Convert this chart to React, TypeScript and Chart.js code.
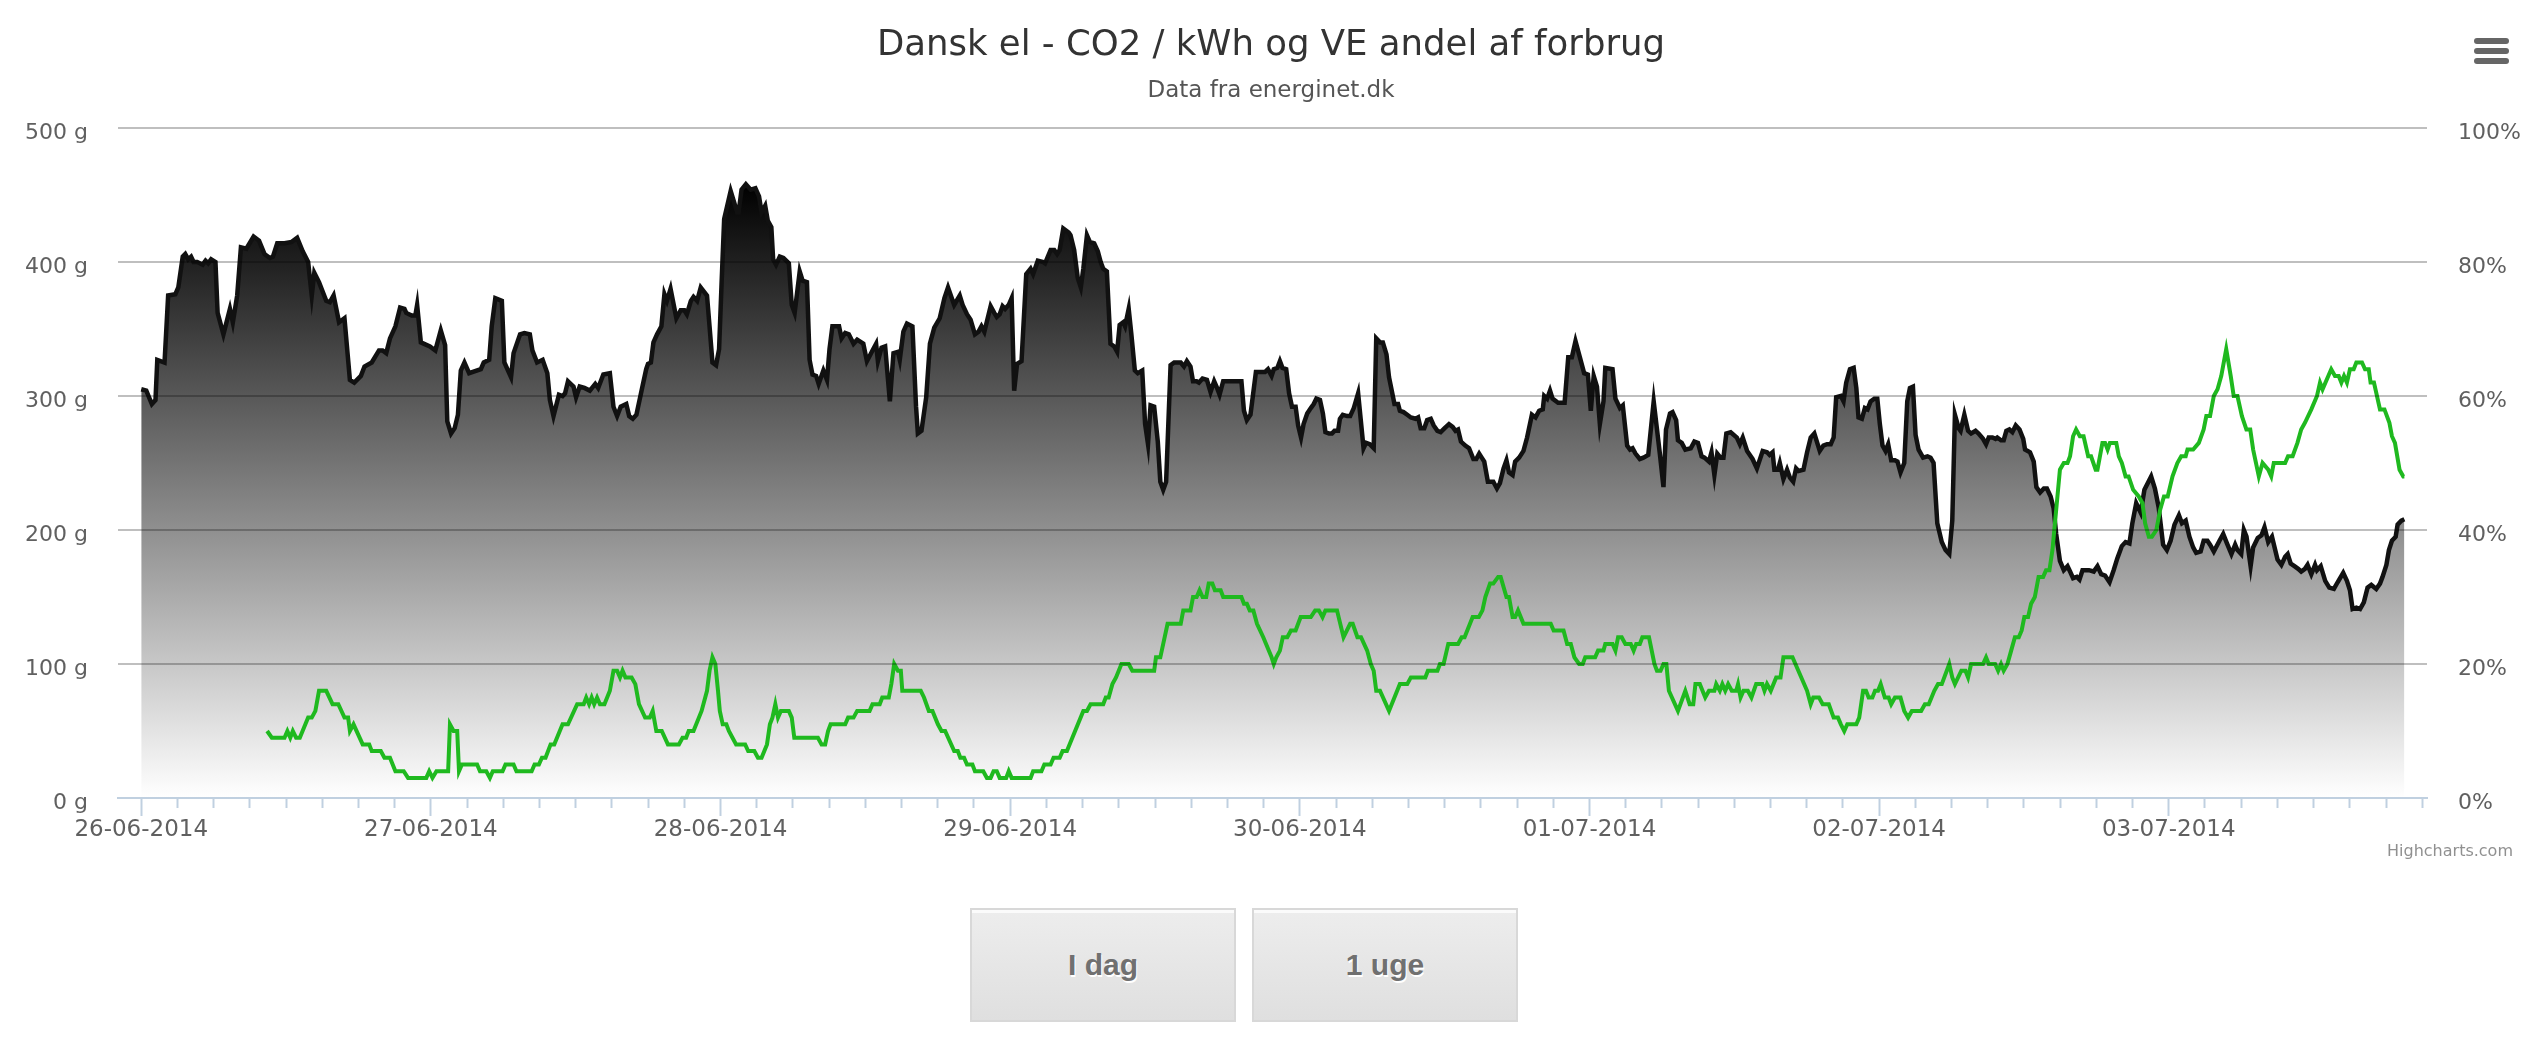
import { useEffect, useRef } from "react";
import { Chart, registerables } from "chart.js";

Chart.register(...registerables);

const chartTitle = "Dansk el - CO2 / kWh og VE andel af forbrug";
const chartSubtitle = "Data fra energinet.dk";
const creditText = "Highcharts.com";
const rangeButtons = ["I dag", "1 uge"];

// x axis: hours after 26-06-2014 00:00; one label per day
const dayLabels = [
  "26-06-2014", "27-06-2014", "28-06-2014", "29-06-2014",
  "30-06-2014", "01-07-2014", "02-07-2014", "03-07-2014",
];
const co2AxisTicks = [0, 100, 200, 300, 400, 500];
const veAxisTicks = [0, 20, 40, 60, 80, 100];

// CO2 per kWh [hour, grams]
const co2Readings: [number, number][] = [
  [0, 305], [0.42, 304], [0.88, 294], [1.18, 297], [1.33, 327], [1.93, 325], [2.23, 375], [2.83, 376], [3.07, 381], [3.44, 404],
  [3.65, 406], [3.89, 402], [4.13, 404], [4.34, 400], [4.64, 400], [5.09, 398], [5.33, 401], [5.55, 399], [5.79, 402], [6.15, 400],
  [6.33, 362], [6.81, 346], [7.35, 365], [7.59, 355], [7.95, 375], [8.26, 411], [8.71, 410], [9.31, 419], [9.76, 416], [10.21, 406],
  [10.67, 403], [10.91, 404], [11.27, 414], [11.57, 414], [11.87, 414], [12.47, 415], [12.92, 418], [13.38, 408], [13.83, 400], [14.13, 375],
  [14.34, 392], [14.73, 385], [15.33, 371], [15.63, 370], [15.94, 375], [16.39, 355], [16.84, 358], [17.29, 312], [17.65, 310], [18.2, 315],
  [18.5, 322], [19.1, 325], [19.7, 334], [20.0, 334], [20.3, 332], [20.61, 343], [21.06, 352], [21.45, 366], [21.81, 365], [21.96, 362],
  [22.41, 360], [22.71, 360], [22.86, 368], [23.17, 340], [23.92, 337], [24.37, 334], [24.82, 349], [25.18, 338], [25.36, 281], [25.67, 272],
  [25.97, 276], [26.24, 286], [26.48, 319], [26.78, 325], [27.17, 317], [28.14, 320], [28.38, 325], [28.83, 327], [29.04, 352], [29.34, 373],
  [29.88, 371], [30.09, 325], [30.64, 314], [30.85, 332], [31.39, 346], [31.75, 347], [32.2, 346], [32.41, 334], [32.8, 325], [33.26, 327],
  [33.65, 317], [33.86, 297], [34.16, 285], [34.61, 301], [34.91, 300], [35.12, 302], [35.36, 311], [35.82, 307], [36.03, 299], [36.33, 307],
  [36.72, 306], [37.17, 304], [37.62, 309], [37.86, 306], [38.29, 316], [38.83, 317], [39.13, 292], [39.43, 285], [39.73, 292], [40.19, 294],
  [40.43, 285], [40.73, 283], [41.03, 286], [41.48, 305], [41.84, 320], [41.99, 324], [42.23, 325], [42.44, 340], [42.74, 346], [43.1, 352],
  [43.35, 376], [43.56, 371], [43.86, 380], [44.34, 358], [44.7, 364], [45.0, 364], [45.21, 361], [45.54, 371], [45.76, 374], [46.06, 371],
  [46.36, 381], [46.88, 375], [47.09, 352], [47.33, 325], [47.63, 323], [47.88, 335], [48.09, 385], [48.3, 432], [48.84, 453], [49.38, 437],
  [49.5, 437], [49.74, 454], [50.1, 458], [50.5, 454], [50.89, 455], [51.19, 449], [51.4, 437], [51.7, 442], [51.91, 431], [52.21, 426],
  [52.36, 402], [52.6, 398], [52.91, 404], [53.21, 403], [53.66, 399], [53.9, 368], [54.14, 362], [54.56, 393], [54.8, 386], [55.16, 385],
  [55.38, 327], [55.62, 316], [55.92, 315], [56.13, 309], [56.52, 319], [56.82, 312], [57.03, 335], [57.27, 352], [57.82, 352], [58.03, 343],
  [58.33, 347], [58.63, 346], [59.02, 339], [59.32, 342], [59.83, 339], [60.13, 326], [60.59, 334], [60.89, 339], [61.04, 326], [61.34, 336],
  [61.64, 337], [62.03, 296], [62.33, 332], [62.7, 333], [62.85, 327], [63.15, 348], [63.45, 354], [63.9, 352], [64.2, 292], [64.35, 272],
  [64.65, 274], [65.04, 299], [65.35, 339], [65.71, 351], [66.16, 358], [66.55, 373], [66.85, 381], [67.36, 368], [67.82, 375], [68.06, 368],
  [68.42, 361], [68.72, 357], [69.08, 346], [69.38, 348], [69.62, 352], [69.86, 348], [70.38, 367], [70.68, 362], [70.89, 359], [71.13, 361],
  [71.37, 367], [71.58, 365], [71.88, 368], [72.12, 373], [72.33, 304], [72.57, 324], [72.94, 326], [73.33, 391], [73.69, 395], [73.9, 391],
  [74.29, 401], [74.74, 400], [74.89, 399], [75.35, 409], [75.65, 409], [75.89, 406], [76.1, 409], [76.4, 425], [76.85, 422], [77.0, 420],
  [77.3, 409], [77.6, 388], [77.85, 381], [78.06, 395], [78.36, 420], [78.6, 415], [78.96, 414], [79.26, 408], [79.5, 400], [79.71, 395],
  [80.01, 393], [80.31, 339], [80.62, 337], [80.86, 333], [81.07, 353], [81.37, 355], [81.52, 352], [81.82, 365], [82.03, 347], [82.33, 319],
  [82.57, 317], [82.94, 319], [83.18, 279], [83.42, 264], [83.63, 293], [83.93, 292], [84.23, 266], [84.44, 236], [84.68, 230], [84.92, 236],
  [85.29, 323], [85.59, 325], [85.83, 325], [86.13, 325], [86.4, 322], [86.64, 326], [86.94, 322], [87.15, 311], [87.45, 311], [87.64, 310],
  [87.94, 313], [88.3, 312], [88.6, 303], [88.9, 311], [89.14, 306], [89.35, 301], [89.65, 311], [91.16, 311], [91.37, 289], [91.61, 282],
  [91.91, 286], [92.36, 318], [93.12, 318], [93.36, 320], [93.66, 315], [93.84, 320], [94.14, 321], [94.35, 326], [94.56, 321], [94.87, 320],
  [95.11, 302], [95.35, 292], [95.65, 292], [95.86, 278], [96.1, 269], [96.31, 279], [96.61, 287], [96.91, 291], [97.15, 294], [97.37, 298],
  [97.67, 297], [97.91, 287], [98.12, 273], [98.42, 272], [98.66, 272], [98.87, 274], [99.17, 274], [99.32, 283], [99.56, 286], [99.93, 285],
  [100.17, 285], [100.47, 291], [100.83, 302], [101.28, 261], [101.49, 265], [101.79, 264], [102.12, 261], [102.33, 343], [102.64, 340], [102.88, 340],
  [103.18, 331], [103.39, 314], [103.84, 294], [104.14, 294], [104.29, 289], [104.59, 288], [104.9, 286], [105.2, 284], [105.59, 283], [105.8, 284],
  [106.01, 276], [106.31, 276], [106.55, 282], [106.85, 283], [107.09, 278], [107.4, 274], [107.67, 273], [108.0, 276], [108.36, 279], [108.66, 277],
  [108.9, 274], [109.11, 275], [109.35, 266], [109.71, 263], [110.02, 261], [110.38, 253], [110.62, 253], [110.86, 257], [111.07, 254], [111.28, 251],
  [111.58, 236], [111.82, 236], [112.03, 236], [112.33, 231], [112.58, 235], [112.88, 246], [113.12, 252], [113.33, 243], [113.63, 241], [113.84, 251],
  [114.17, 254], [114.53, 259], [114.83, 269], [115.23, 286], [115.53, 284], [115.83, 289], [116.13, 290], [116.25, 300], [116.49, 298], [116.73, 304],
  [116.94, 298], [117.4, 295], [117.94, 295], [118.24, 329], [118.54, 329], [118.84, 341], [119.2, 329], [119.56, 317], [119.87, 316], [120.11, 289],
  [120.35, 315], [120.62, 307], [120.86, 279], [121.16, 296], [121.31, 321], [121.91, 320], [122.15, 298], [122.52, 291], [122.76, 293], [123.12, 263],
  [123.36, 260], [123.57, 261], [123.81, 257], [124.17, 253], [124.47, 254], [124.87, 256], [125.32, 296], [125.83, 257], [126.13, 232], [126.34, 275],
  [126.67, 287], [126.88, 288], [127.18, 282], [127.33, 267], [127.64, 265], [127.94, 260], [128.39, 261], [128.69, 266], [128.99, 265], [129.29, 255],
  [129.53, 254], [129.9, 251], [130.11, 258], [130.35, 241], [130.59, 257], [130.86, 254], [131.1, 254], [131.34, 272], [131.7, 273], [132.21, 269],
  [132.46, 264], [132.7, 269], [133.06, 259], [133.51, 253], [133.87, 246], [134.35, 259], [134.71, 258], [134.92, 256], [135.17, 258], [135.32, 245],
  [135.62, 245], [135.77, 250], [136.07, 238], [136.37, 245], [136.61, 239], [136.88, 236], [137.12, 246], [137.33, 244], [137.73, 245], [138.03, 258],
  [138.33, 269], [138.63, 272], [139.08, 259], [139.38, 263], [139.68, 264], [139.99, 264], [140.23, 269], [140.44, 299], [140.83, 300], [141.05, 296],
  [141.27, 310], [141.58, 320], [141.89, 321], [142.11, 306], [142.29, 284], [142.57, 283], [142.82, 291], [143.04, 290], [143.29, 296], [143.6, 298],
  [143.85, 298], [144.06, 279], [144.28, 263], [144.53, 259], [144.75, 264], [145.0, 252], [145.31, 252], [145.52, 251], [145.77, 243], [146.08, 250],
  [146.33, 296], [146.55, 306], [146.8, 307], [147.02, 271], [147.27, 260], [147.64, 254], [148.01, 255], [148.26, 254], [148.51, 250], [148.82, 205],
  [149.19, 191], [149.5, 185], [149.81, 182], [150.06, 207], [150.28, 286], [150.59, 276], [150.75, 274], [151.06, 286], [151.37, 274], [151.62, 272],
  [151.99, 274], [152.24, 272], [152.61, 268], [152.86, 264], [153.08, 269], [153.39, 269], [153.64, 268], [153.79, 269], [154.1, 267], [154.32, 267],
  [154.54, 274], [154.79, 275], [155.04, 273], [155.32, 278], [155.63, 275], [155.94, 268], [156.09, 260], [156.5, 258], [156.81, 251], [157.03, 232],
  [157.34, 228], [157.65, 231], [157.9, 231], [158.21, 225], [158.46, 216], [158.67, 197], [158.98, 177], [159.3, 170], [159.61, 173], [159.82, 169],
  [160.07, 164], [160.38, 165], [160.6, 163], [160.85, 170], [161.38, 170], [161.78, 169], [162.09, 173], [162.4, 167], [162.72, 166], [163.09, 161],
  [163.43, 170], [163.74, 179], [164.11, 188], [164.42, 191], [164.74, 190], [164.98, 205], [165.3, 220], [165.67, 213], [165.98, 230], [166.54, 240],
  [166.85, 231], [167.16, 217], [167.53, 189], [167.84, 185], [168.15, 192], [168.47, 204], [168.84, 211], [169.09, 205], [169.4, 207], [169.71, 195],
  [170.02, 187], [170.27, 183], [170.64, 184], [170.89, 192], [171.2, 192], [171.42, 189], [171.73, 184], [172.2, 192], [172.51, 197], [172.82, 190],
  [173.19, 182], [173.5, 189], [173.69, 185], [174.0, 182], [174.22, 200], [174.44, 195], [174.78, 173], [174.99, 187], [175.37, 194], [175.68, 196],
  [175.93, 202], [176.24, 191], [176.55, 195], [177.01, 178], [177.33, 174], [177.64, 180], [177.85, 182], [178.1, 175], [178.41, 173], [178.72, 171],
  [178.97, 169], [179.28, 171], [179.5, 174], [179.81, 167], [180.12, 174], [180.28, 170], [180.59, 173], [180.96, 162], [181.3, 157], [181.68, 156],
  [181.99, 161], [182.45, 168], [182.76, 162], [183.01, 155], [183.23, 141], [183.54, 142], [183.85, 141], [184.16, 146], [184.47, 157], [184.78, 159],
  [185.19, 156], [185.5, 160], [185.71, 165], [186.03, 174], [186.24, 185], [186.49, 192], [186.8, 195], [186.96, 204], [187.27, 207], [187.52, 208],
];

// VE share of consumption [hour, percent]
const veReadings: [number, number][] = [
  [10.43, 10], [10.82, 9], [11.87, 9], [12.11, 10], [12.35, 9], [12.56, 10], [12.83, 9], [13.14, 9], [13.83, 12], [14.13, 12],
  [14.43, 13], [14.73, 16], [15.33, 16], [15.85, 14], [16.33, 14], [16.84, 12], [17.14, 12], [17.29, 10], [17.59, 11], [18.35, 8],
  [18.89, 8], [19.1, 7], [19.85, 7], [20.15, 6], [20.61, 6], [21.06, 4], [21.75, 4], [22.11, 3], [23.62, 3], [23.86, 4],
  [24.13, 3], [24.46, 4], [25.43, 4], [25.58, 11], [25.88, 10], [26.18, 10], [26.33, 4], [26.57, 5], [27.83, 5], [28.07, 4],
  [28.59, 4], [28.89, 3], [29.13, 4], [29.94, 4], [30.18, 5], [30.85, 5], [31.09, 4], [32.35, 4], [32.59, 5], [32.95, 5],
  [33.2, 6], [33.5, 6], [33.92, 8], [34.22, 8], [34.91, 11], [35.36, 11], [36.12, 14], [36.66, 14], [36.87, 15], [37.11, 14],
  [37.32, 15], [37.53, 14], [37.77, 15], [38.01, 14], [38.38, 14], [38.83, 16], [39.13, 19], [39.43, 19], [39.67, 18], [39.88, 19],
  [40.12, 18], [40.63, 18], [40.94, 17], [41.24, 14], [41.75, 12], [42.14, 12], [42.38, 13], [42.68, 10], [43.13, 10], [43.64, 8],
  [44.55, 8], [44.85, 9], [45.15, 9], [45.36, 10], [45.76, 10], [46.43, 13], [46.88, 16], [47.09, 19], [47.33, 21], [47.57, 20],
  [47.79, 16], [47.94, 13], [48.18, 11], [48.48, 11], [48.69, 10], [48.99, 9], [49.29, 8], [50.04, 8], [50.29, 7], [50.8, 7],
  [51.1, 6], [51.4, 6], [51.85, 8], [52.09, 11], [52.3, 12], [52.54, 14], [52.76, 12], [53.0, 13], [53.66, 13], [53.9, 12],
  [54.11, 9], [56.07, 9], [56.37, 8], [56.67, 8], [56.91, 10], [57.12, 11], [58.33, 11], [58.57, 12], [59.02, 12], [59.32, 13],
  [60.35, 13], [60.59, 14], [61.19, 14], [61.4, 15], [61.94, 15], [62.15, 17], [62.39, 20], [62.7, 19], [62.94, 19], [63.06, 16],
  [64.59, 16], [64.86, 15], [65.26, 13], [65.56, 13], [66.01, 11], [66.31, 10], [66.61, 10], [67.36, 7], [67.66, 7], [67.87, 6],
  [68.18, 6], [68.42, 5], [68.87, 5], [69.08, 4], [69.77, 4], [70.07, 3], [70.38, 3], [70.62, 4], [70.89, 4], [71.13, 3],
  [71.67, 3], [71.88, 4], [72.12, 3], [73.69, 3], [73.9, 4], [74.59, 4], [74.83, 5], [75.35, 5], [75.59, 6], [76.1, 6],
  [76.34, 7], [76.7, 7], [77.15, 9], [78.06, 13], [78.36, 13], [78.66, 14], [79.71, 14], [79.92, 15], [80.16, 15], [80.47, 17],
  [80.77, 18], [81.22, 20], [81.82, 20], [82.12, 19], [83.93, 19], [84.08, 21], [84.44, 21], [84.68, 23], [85.04, 26], [86.13, 26],
  [86.34, 28], [86.94, 28], [87.15, 30], [87.45, 30], [87.69, 31], [87.94, 30], [88.24, 30], [88.45, 32], [88.75, 32], [88.96, 31],
  [89.44, 31], [89.65, 30], [91.16, 30], [91.37, 29], [91.61, 29], [91.85, 28], [92.15, 28], [92.45, 26], [92.97, 24], [93.66, 21],
  [93.84, 20], [94.05, 21], [94.35, 22], [94.59, 24], [94.96, 24], [95.26, 25], [95.65, 25], [96.07, 27], [96.91, 27], [97.27, 28],
  [97.58, 28], [97.88, 27], [98.12, 28], [99.08, 28], [99.62, 24], [100.17, 26], [100.38, 26], [100.77, 24], [101.07, 24], [101.58, 22],
  [101.88, 20], [102.12, 19], [102.33, 16], [102.64, 16], [103.39, 13], [104.29, 17], [104.9, 17], [105.2, 18], [106.4, 18], [106.61, 19],
  [107.4, 19], [107.61, 20], [107.91, 20], [108.3, 23], [109.11, 23], [109.41, 24], [109.65, 24], [110.32, 27], [110.83, 27], [111.13, 28],
  [111.37, 30], [111.76, 32], [112.03, 32], [112.43, 33], [112.64, 33], [113.12, 30], [113.33, 30], [113.63, 27], [113.84, 27], [114.08, 28],
  [114.53, 26], [116.79, 26], [117.03, 25], [117.85, 25], [118.15, 23], [118.45, 23], [118.75, 21], [119.14, 20], [119.44, 20], [119.65, 21],
  [120.47, 21], [120.71, 22], [121.16, 22], [121.31, 23], [121.91, 23], [122.15, 22], [122.37, 24], [122.67, 24], [122.97, 23], [123.42, 23],
  [123.66, 22], [123.87, 23], [124.17, 23], [124.38, 24], [124.93, 24], [125.38, 20], [125.59, 19], [125.89, 19], [126.13, 20], [126.37, 20],
  [126.58, 16], [127.33, 13], [127.94, 16], [128.3, 14], [128.6, 14], [128.78, 17], [129.14, 17], [129.59, 15], [129.9, 16], [130.35, 16],
  [130.5, 17], [130.8, 16], [131.01, 17], [131.25, 16], [131.49, 17], [131.79, 16], [132.16, 16], [132.31, 17], [132.52, 15], [132.76, 16],
  [133.12, 16], [133.42, 15], [133.81, 17], [134.32, 17], [134.5, 16], [134.71, 17], [135.02, 16], [135.47, 18], [135.83, 18], [136.07, 21],
  [136.82, 21], [138.03, 16], [138.33, 14], [138.54, 15], [139.02, 15], [139.32, 14], [139.83, 14], [140.23, 12], [140.59, 12], [140.83, 11],
  [141.11, 10], [141.36, 11], [142.11, 11], [142.35, 12], [142.67, 16], [142.91, 16], [143.13, 15], [143.44, 15], [143.66, 16], [143.91, 16],
  [144.13, 17], [144.47, 15], [144.79, 15], [145.0, 14], [145.31, 15], [145.77, 15], [146.08, 13], [146.4, 12], [146.71, 13], [147.48, 13],
  [147.79, 14], [148.11, 14], [148.57, 16], [148.88, 17], [149.19, 17], [149.81, 20], [150.06, 18], [150.28, 17], [150.81, 19], [151.15, 19],
  [151.37, 18], [151.62, 20], [152.61, 20], [152.86, 21], [153.08, 20], [153.61, 20], [153.86, 19], [154.1, 20], [154.32, 19], [154.63, 20],
  [154.94, 22], [155.25, 24], [155.57, 24], [155.81, 25], [156.03, 27], [156.34, 27], [156.59, 29], [156.9, 30], [157.21, 33], [157.59, 33],
  [157.83, 34], [158.11, 34], [158.36, 37], [158.67, 43], [158.98, 49], [159.3, 50], [159.61, 50], [159.82, 51], [160.07, 54], [160.32, 55],
  [160.63, 54], [160.94, 54], [161.32, 51], [161.56, 51], [161.94, 49], [162.09, 49], [162.5, 53], [162.72, 53], [162.93, 52], [163.12, 53],
  [163.65, 53], [163.86, 51], [164.11, 50], [164.42, 48], [164.67, 48], [165.05, 46], [165.51, 45], [165.82, 44], [166.04, 41], [166.35, 39],
  [166.6, 39], [166.97, 40], [167.28, 43], [167.6, 45], [167.91, 45], [168.31, 48], [168.71, 50], [169.03, 51], [169.4, 51], [169.55, 52],
  [170.02, 52], [170.49, 53], [170.89, 55], [171.11, 57], [171.42, 57], [171.73, 60], [172.04, 61], [172.35, 63], [172.76, 67], [173.13, 63],
  [173.38, 60], [173.69, 60], [174.06, 57], [174.43, 55], [174.75, 55], [174.99, 52], [175.46, 48], [175.77, 50], [176.24, 49], [176.49, 48],
  [176.7, 50], [177.64, 50], [177.88, 51], [178.26, 51], [178.66, 53], [178.97, 55], [179.28, 56], [179.81, 58], [180.28, 60], [180.53, 62],
  [180.74, 61], [181.46, 64], [181.77, 63], [182.08, 63], [182.3, 62], [182.52, 63], [182.76, 62], [183.01, 64], [183.32, 64], [183.54, 65],
  [184.01, 65], [184.26, 64], [184.57, 64], [184.72, 62], [185.0, 62], [185.5, 58], [185.87, 58], [186.28, 56], [186.49, 54], [186.74, 53],
  [187.12, 49], [187.43, 48], [187.52, 48],
];

const FONT = "'DejaVu Sans', 'Lucida Grande', sans-serif";

export default function App() {
  const canvasRef = useRef<HTMLCanvasElement | null>(null);

  useEffect(() => {
    const canvas = canvasRef.current;
    if (!canvas) return;
    Chart.defaults.font.family = FONT;

    const firstHour = co2Readings[0][0];
    const lastHour = co2Readings[co2Readings.length - 1][0];
    const pad = (lastHour - firstHour) * 0.01;
    const tickHours: number[] = [];
    for (let h = 0; h <= lastHour + pad; h += 3) tickHours.push(h);
    const co2Max = Math.max(...co2Readings.map((r) => r[1]));

    const chart = new Chart(canvas, {
      type: "line",
      data: {
        datasets: [
          {
            label: "VE andel af forbrug",
            data: veReadings.map(([x, y]) => ({ x, y })),
            yAxisID: "y1",
            borderColor: "#1fb91f",
            borderWidth: 4,
            pointRadius: 0,
            fill: false,
            tension: 0,
            order: 0,
          },
          {
            label: "CO2 / kWh",
            data: co2Readings.map(([x, y]) => ({ x, y })),
            yAxisID: "y",
            borderColor: "#111111",
            borderWidth: 4.5,
            pointRadius: 0,
            tension: 0,
            fill: "origin",
            order: 1,
            backgroundColor: (ctx: any) => {
              const ch = ctx.chart;
              if (!ch.chartArea || !ch.scales.y) return "rgba(80,80,80,1)";
              const top = ch.scales.y.getPixelForValue(co2Max);
              const bottom = ch.scales.y.getPixelForValue(0);
              const g = ch.ctx.createLinearGradient(0, top, 0, bottom);
              g.addColorStop(0, "rgb(0,0,0)");
              g.addColorStop(1, "rgb(255,255,255)");
              return g;
            },
          },
        ],
      },
      options: {
        animation: false,
        responsive: true,
        maintainAspectRatio: false,
        events: [],
        layout: { padding: { left: 0, right: 0, top: 0, bottom: 32 } },
        plugins: {
          legend: { display: false },
          tooltip: { enabled: false },
          title: {
            display: true,
            text: chartTitle,
            color: "#333333",
            font: { family: FONT, size: 35.5, weight: "normal" },
            padding: { top: 24.7, bottom: 10.2 },
          },
          subtitle: {
            display: true,
            text: chartSubtitle,
            color: "#555555",
            font: { family: FONT, size: 23, weight: "normal" },
            padding: { top: 0, bottom: 22.9 },
          },
        },
        scales: {
          x: {
            type: "linear",
            min: firstHour - pad - 0.05,
            max: lastHour + pad,
            afterBuildTicks: (s: any) => {
              s.ticks = tickHours.map((v) => ({ value: v }));
            },
            afterFit: (s: any) => {
              s.height = 50;
            },
            ticks: {
              autoSkip: false,
              maxRotation: 0,
              minRotation: 0,
              padding: 0,
              color: "#606060",
              font: { family: FONT, size: 23 },
              callback: (v: any) => {
                const n = Number(v);
                return n % 24 === 0 ? dayLabels[n / 24] ?? "" : "";
              },
            },
            grid: {
              drawOnChartArea: false,
              drawTicks: true,
              tickLength: 18,
              tickColor: "#C0D0E0",
              tickWidth: 2,
              tickBorderDash: (ctx: any) =>
                ctx.tick && ctx.tick.value % 24 === 0 ? [] : [9, 40],
            },
            border: { display: true, color: "#C0D0E0", width: 2, z: 1 },
          },
          y: {
            position: "left",
            min: co2AxisTicks[0],
            max: co2AxisTicks[co2AxisTicks.length - 1],
            afterFit: (s: any) => {
              s.width = 118;
            },
            afterBuildTicks: (s: any) => {
              s.ticks = co2AxisTicks.map((v) => ({ value: v }));
            },
            ticks: {
              padding: 30,
              labelOffset: 5,
              color: "#606060",
              font: { family: FONT, size: 22 },
              callback: (v: any) => `${v} g`,
            },
            grid: {
              color: (ctx: any) =>
                ctx.tick && ctx.tick.value === 0 ? "rgba(0,0,0,0)" : "rgba(0,0,0,0.25)",
              lineWidth: 2,
              drawTicks: false,
              z: 1,
            },
            border: { display: false },
          },
          y1: {
            position: "right",
            min: veAxisTicks[0],
            max: veAxisTicks[veAxisTicks.length - 1],
            afterFit: (s: any) => {
              s.width = 115;
            },
            afterBuildTicks: (s: any) => {
              s.ticks = veAxisTicks.map((v) => ({ value: v }));
            },
            ticks: {
              padding: 31,
              labelOffset: 5,
              color: "#606060",
              font: { family: FONT, size: 22 },
              callback: (v: any) => `${v}%`,
            },
            grid: { drawOnChartArea: false, drawTicks: false },
            border: { display: false },
          },
        },
      } as any,
    });

    return () => chart.destroy();
  }, []);

  const bar = (top: number) => (
    <div
      style={{
        position: "absolute",
        left: 2474,
        top,
        width: 35,
        height: 6,
        borderRadius: 3,
        background: "#666666",
      }}
    />
  );

  return (
    <div
      style={{
        position: "fixed",
        left: 0,
        top: 0,
        width: 2542,
        height: 1060,
        background: "#ffffff",
        overflow: "hidden",
      }}
    >
      <div style={{ position: "absolute", left: 0, top: 0, width: 2542, height: 880 }}>
        <canvas ref={canvasRef} />
      </div>
      {bar(38)}
      {bar(48)}
      {bar(58)}
      <div
        style={{
          position: "absolute",
          right: 29,
          top: 841,
          fontFamily: FONT,
          fontSize: 16,
          lineHeight: "20px",
          color: "#909090",
        }}
      >
        {creditText}
      </div>
      {rangeButtons.map((label, i) => (
        <div
          key={label}
          style={{
            position: "absolute",
            left: 970 + i * 282,
            top: 908,
            width: 266,
            height: 114,
            boxSizing: "border-box",
            border: "2px solid #d8d8d8",
            background: "linear-gradient(#ededed, #dfdfdf)",
            boxShadow: "inset 0 3px 0 #fbfbfb",
            display: "flex",
            alignItems: "center",
            justifyContent: "center",
            fontFamily: "'Liberation Sans', Arial, sans-serif",
            fontWeight: "bold",
            fontSize: 30,
            color: "#707070",
            textShadow: "1px 2px 0 #ffffff",
          }}
        >
          {label}
        </div>
      ))}
    </div>
  );
}
